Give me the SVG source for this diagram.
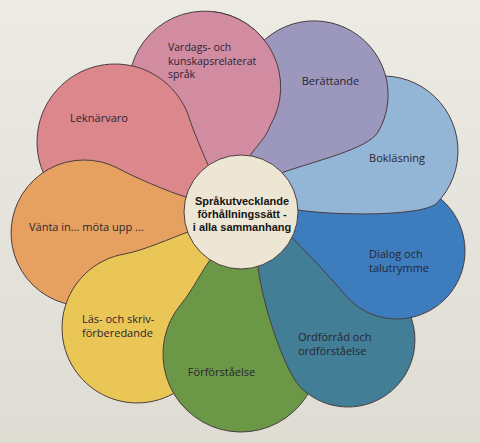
<svg xmlns="http://www.w3.org/2000/svg" width="480" height="443" viewBox="0 0 480 443">
<defs>
<linearGradient id="bg" x1="0" y1="0" x2="0" y2="1">
<stop offset="0" stop-color="#ecebe4"/>
<stop offset="1" stop-color="#dedcd3"/>
</linearGradient>
<clipPath id="pinkClip"><rect x="212" y="0" width="268" height="443"/></clipPath>
</defs>
<style>
.petal{stroke:#4a3d3f;stroke-width:1;stroke-linejoin:round}
.lbl{font-family:"Open Sans","Noto Sans",sans-serif;font-size:11px;fill:#2a2530}
.sm{font-size:10.5px}
.ctr{font-family:"Liberation Sans",Arial,sans-serif;font-size:11px;font-weight:bold;fill:#141414}
</style>
<rect x="0" y="0" width="480" height="443" fill="url(#bg)"/>
<g id="petals">
<g id="vardags">
<path class="petal" fill="#d28ca2" d="M 241 212 L 250 156 C 256 146 266 138 270 126 A 76 76 0 1 0 133.6 114 L 115 142 Z"/>
</g>
<g id="leknarvaro">
<path class="petal" fill="#db878b" d="M 241 212 L 208 165 C 203 153 193.6 132 189.2 117.9 A 78 78 0 1 0 88.3 215.3 L 84 233 Z"/>
<text class="lbl" x="99" y="122" text-anchor="middle">Leknärvaro</text>
</g>
<g id="vanta">
<path class="petal" fill="#e6a160" d="M 241 212 L 186 197 C 169 192 134 177 118.3 168.5 A 73 73 0 1 0 109 301.6 L 137 328 Z"/>
<text class="lbl" x="29" y="230.5">Vänta in... möta upp ...</text>
</g>
<g id="las">
<path class="petal" fill="#eac656" d="M 241 212 L 188 232 C 171 238 144 250.5 124 254.1 A 75 75 0 1 0 207.5 353.7 L 241 354 Z"/>
<text class="lbl" x="82" y="323">Läs- och skriv-</text>
<text class="lbl" x="82" y="337">förberedande</text>
</g>
<g id="forforstaelse">
<path class="petal" fill="#6a9847" d="M 241 212 L 210 260 C 200 274 191 292.5 181.2 303.9 A 78 78 0 1 0 317.8 340.5 L 348 340 Z"/>
<text class="lbl" x="221.5" y="376" text-anchor="middle">Förförståelse</text>
</g>
<g id="ordforrad">
<path class="petal" fill="#427e96" d="M 241 212 L 258 266.5 C 261 298 283 369 300.6 387.4 A 67 67 0 1 0 381.5 282 L 397 251 Z"/>
<text class="lbl" x="298" y="341">Ordförråd och</text>
<text class="lbl" x="298" y="355">ordförståelse</text>
</g>
<g id="dialog">
<path class="petal" fill="#3d7dbe" d="M 241 212 L 292 237.5 C 309 255 331 278 344.9 294.7 A 68 68 0 1 0 385.2 184 L 383 151 Z"/>
<text class="lbl" x="369" y="258">Dialog och</text>
<text class="lbl" x="369" y="271.5">talutrymme</text>
</g>
<g id="boklasning">
<path class="petal" fill="#93b5d6" d="M 241 212 L 298 210 C 340 216 420 216 436 204 A 75 75 0 1 0 318 113.5 L 314 95 Z"/>
<text class="lbl" x="397" y="162" text-anchor="middle">Bokläsning</text>
</g>
<g id="berattande">
<path class="petal" fill="#9c97bd" d="M 241 212 L 282.2 172.6 C 315 161 368 149 378.1 132 A 74 74 0 1 0 244.5 69.7 L 230 100 Z"/>
<text class="lbl" x="330.5" y="85" text-anchor="middle">Berättande</text>
</g>
<g id="vardags-top" clip-path="url(#pinkClip)">
<path class="petal" fill="#d28ca2" d="M 241 212 L 250 156 C 256 146 266 138 270 126 A 76 76 0 1 0 133.6 114 L 115 142 Z"/>
</g>
<g id="vardags-label">
<text class="lbl sm" x="168" y="51">Vardags- och</text>
<text class="lbl sm" x="168" y="64.5">kunskapsrelaterat</text>
<text class="lbl sm" x="168" y="78">språk</text>
</g>
</g>
<g id="connectors"/>
<g id="center">
<circle cx="241" cy="212" r="57" fill="#eee6d4" stroke="#4a3d3f" stroke-width="1"/>
<text class="ctr" x="242" y="205" text-anchor="middle">Språkutvecklande</text>
<text class="ctr" x="242" y="218" text-anchor="middle">förhållningssätt -</text>
<text class="ctr" x="242" y="231" text-anchor="middle">i alla sammanhang</text>
</g>
</svg>
